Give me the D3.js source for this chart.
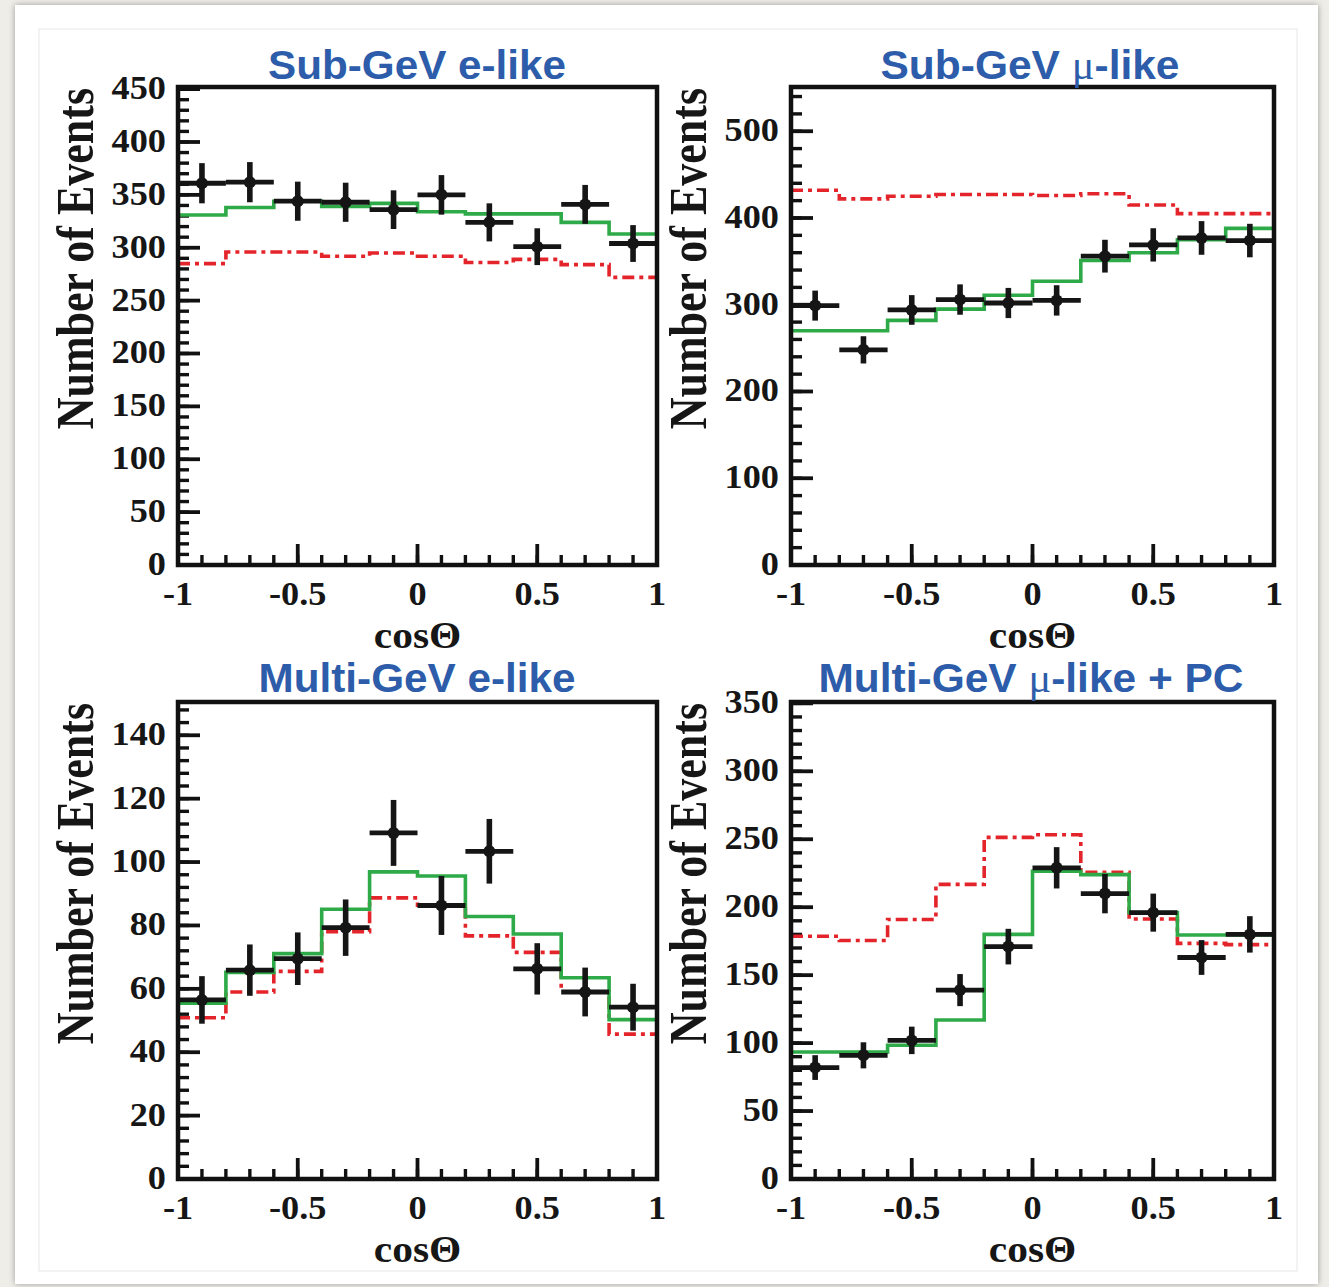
<!DOCTYPE html>
<html>
<head>
<meta charset="utf-8">
<script src="https://cdn.jsdelivr.net/npm/d3@7/dist/d3.min.js"></script>
<style>
  html, body { margin: 0; padding: 0; background: #efede8; }
  svg { display: block; }
</style>
</head>
<body>
<script>
// ---------------- DATA ----------------
const binEdges   = [-1, -0.8, -0.6, -0.4, -0.2, 0, 0.2, 0.4, 0.6, 0.8, 1];
const binCenters = [-0.9, -0.7, -0.5, -0.3, -0.1, 0.1, 0.3, 0.5, 0.7, 0.9];
const xTickValues = [-1, -0.5, 0, 0.5, 1];
const xTickLabels = ["-1", "-0.5", "0", "0.5", "1"];
const xTitle = "cosΘ";
const yTitle = "Number of Events";

// title pieces: [before mu, mu, after mu]
const panelTitles = [
  ["Sub-GeV e-like", "", ""],
  ["Sub-GeV ", "μ", "-like"],
  ["Multi-GeV e-like", "", ""],
  ["Multi-GeV ", "μ", "-like + PC"]
];

// Sub-GeV e-like
const subEData   = [361, 362, 344, 343, 336, 350, 324, 301, 341, 304];
const subEErr    = [19, 19, 18.5, 18.5, 18.3, 18.7, 18, 17.4, 18.4, 17.4];
const subEFit    = [331, 338, 344, 339, 342, 334, 332, 332, 324, 313];
const subENoOsc  = [285, 296, 296, 292, 295, 292, 286, 289, 284, 272];
const subEYTicks = [0, 50, 100, 150, 200, 250, 300, 350, 400, 450];

// Sub-GeV mu-like
const subMuData   = [299, 248, 294, 306, 302, 305, 356, 369, 377, 374];
const subMuErr    = [17.3, 15.7, 17.1, 17.5, 17.4, 17.5, 18.9, 19.2, 19.4, 19.3];
const subMuFit    = [270, 270, 282, 295, 311, 327, 351, 360, 375, 388];
const subMuNoOsc  = [432, 422, 425, 427, 427, 426, 428, 415, 405, 405];
const subMuYTicks = [0, 100, 200, 300, 400, 500];

// Multi-GeV e-like
const mulEData   = [56.5, 65.9, 69.5, 79.3, 109.2, 86.3, 103.4, 66.3, 59, 54.2];
const mulEErr    = [7.5, 8.1, 8.3, 8.9, 10.4, 9.3, 10.2, 8.1, 7.7, 7.4];
const mulEFit    = [55.5, 65.2, 71.1, 85.1, 96.9, 95.6, 82.8, 77.3, 63.5, 50.3];
const mulENoOsc  = [50.9, 59, 65.5, 78, 88.7, 86.4, 76.7, 71.5, 59.1, 45.7];
const mulEYTicks = [0, 20, 40, 60, 80, 100, 120, 140];

// Multi-GeV mu-like + PC
const mulMuData   = [82, 91, 102, 139, 171, 229, 210, 196, 163, 180];
const mulMuErr    = [9.1, 9.6, 10.1, 11.8, 13.1, 15.2, 14.5, 14, 12.8, 13.4];
const mulMuFit    = [93.5, 93.5, 98.4, 117, 180, 226.5, 224, 196, 179.5, 179.5];
const mulMuNoOsc  = [178.6, 175.5, 191, 216.8, 251.4, 253.3, 225.6, 191.3, 173.4, 172.5];
const mulMuYTicks = [0, 50, 100, 150, 200, 250, 300, 350];

const yMaxes     = [452, 551, 150.5, 351];
const yMinorStep = [10, 20, 4, 10];

// ---------------- LAYOUT ----------------
const W = 1329, H = 1287;
const panels = [
  { x0: 178, x1: 657, y0: 87,  y1: 565,  titleX: 417,  titleY: 79,  titleW: 298,
    data: subEData, err: subEErr, fit: subEFit, noosc: subENoOsc, yTicks: subEYTicks },
  { x0: 791, x1: 1274, y0: 87, y1: 565,  titleX: 1030, titleY: 79,  titleW: 299,
    data: subMuData, err: subMuErr, fit: subMuFit, noosc: subMuNoOsc, yTicks: subMuYTicks },
  { x0: 178, x1: 657, y0: 702, y1: 1179, titleX: 417,  titleY: 692, titleW: 317,
    data: mulEData, err: mulEErr, fit: mulEFit, noosc: mulENoOsc, yTicks: mulEYTicks },
  { x0: 791, x1: 1274, y0: 702, y1: 1179, titleX: 1031, titleY: 692, titleW: 425,
    data: mulMuData, err: mulMuErr, fit: mulMuFit, noosc: mulMuNoOsc, yTicks: mulMuYTicks }
];

const svg = d3.select("body").append("svg")
  .attr("width", W).attr("height", H)
  .attr("viewBox", `0 0 ${W} ${H}`);

const defs = svg.append("defs");
const f = defs.append("filter").attr("id", "shadow")
  .attr("x", "-5%").attr("y", "-5%").attr("width", "110%").attr("height", "110%");
f.append("feDropShadow").attr("dx", 0).attr("dy", 0).attr("stdDeviation", 3)
  .attr("flood-color", "#000").attr("flood-opacity", 0.35);

svg.append("rect").attr("width", W).attr("height", H).attr("fill", "#efede8");
svg.append("rect").attr("x", 15).attr("y", 5).attr("width", 1303).attr("height", 1279)
  .attr("fill", "#ffffff").attr("filter", "url(#shadow)");
svg.append("rect").attr("x", 39).attr("y", 29).attr("width", 1258).attr("height", 1242)
  .attr("fill", "none").attr("stroke", "#ececec").attr("stroke-width", 1.2);

const serif = "'Liberation Serif', 'Times New Roman', serif";
const sans  = "'Liberation Sans', Arial, Helvetica, sans-serif";
const labStretch = 1.1;
const titleStretch = 1.2;

panels.forEach((p, i) => {
  const g = svg.append("g");
  const x = d3.scaleLinear().domain([-1, 1]).range([p.x0, p.x1]);
  const y = d3.scaleLinear().domain([0, yMaxes[i]]).range([p.y1, p.y0]);

  // minor / major ticks on y (inside frame, pointing right)
  const yMinor = d3.range(0, yMaxes[i], yMinorStep[i]);
  g.selectAll(".ymin").data(yMinor).enter().append("line")
    .attr("x1", p.x0).attr("x2", p.x0 + 11)
    .attr("y1", d => y(d)).attr("y2", d => y(d))
    .attr("stroke", "#111").attr("stroke-width", 3.4);
  g.selectAll(".ymaj").data(p.yTicks).enter().append("line")
    .attr("x1", p.x0).attr("x2", p.x0 + 22)
    .attr("y1", d => y(d)).attr("y2", d => y(d))
    .attr("stroke", "#111").attr("stroke-width", 3.8);

  // x ticks (pointing up)
  const xMinor = d3.range(-10, 11).map(k => k / 10);
  g.selectAll(".xmin").data(xMinor).enter().append("line")
    .attr("x1", d => x(d)).attr("x2", d => x(d))
    .attr("y1", p.y1).attr("y2", p.y1 - 10)
    .attr("stroke", "#111").attr("stroke-width", 3.4);
  g.selectAll(".xmaj").data(xTickValues).enter().append("line")
    .attr("x1", d => x(d)).attr("x2", d => x(d))
    .attr("y1", p.y1).attr("y2", p.y1 - 21)
    .attr("stroke", "#111").attr("stroke-width", 3.8);

  // step histograms
  const stepLine = d3.line().x(d => x(d[0])).y(d => y(d[1])).curve(d3.curveStepAfter);
  const pts = arr => binEdges.map((e, k) => [e, arr[Math.min(k, arr.length - 1)]]);

  g.append("path").attr("d", stepLine(pts(p.noosc)))
    .attr("fill", "none").attr("stroke", "#e3242b").attr("stroke-width", 3.6)
    .attr("stroke-dasharray", "12 5 4 5");
  g.append("path").attr("d", stepLine(pts(p.fit)))
    .attr("fill", "none").attr("stroke", "#2eaa48").attr("stroke-width", 3.6);

  // data points
  const dg = g.append("g");
  p.data.forEach((v, k) => {
    dg.append("line")
      .attr("x1", x(binEdges[k])).attr("x2", x(binEdges[k + 1]))
      .attr("y1", y(v)).attr("y2", y(v))
      .attr("stroke", "#151515").attr("stroke-width", 4.8);
    dg.append("line")
      .attr("x1", x(binCenters[k])).attr("x2", x(binCenters[k]))
      .attr("y1", y(v - p.err[k])).attr("y2", y(v + p.err[k]))
      .attr("stroke", "#151515").attr("stroke-width", 5.6);
    dg.append("circle").attr("cx", x(binCenters[k])).attr("cy", y(v)).attr("r", 6)
      .attr("fill", "#151515");
  });

  // frame
  g.append("rect").attr("x", p.x0).attr("y", p.y0)
    .attr("width", p.x1 - p.x0).attr("height", p.y1 - p.y0)
    .attr("fill", "none").attr("stroke", "#111").attr("stroke-width", 4.5);

  // y tick labels
  g.selectAll(".ylab").data(p.yTicks).enter().append("text")
    .attr("transform", d => `translate(${p.x0 - 12},${y(d)}) scale(${labStretch},1)`)
    .attr("dy", "0.3em")
    .attr("text-anchor", "end")
    .attr("font-family", serif).attr("font-weight", "bold").attr("font-size", 33)
    .attr("fill", "#161616")
    .text(d => d);

  // x tick labels
  g.selectAll(".xlab").data(xTickValues).enter().append("text")
    .attr("transform", d => `translate(${x(d)},${p.y1 + 40}) scale(${labStretch},1)`)
    .attr("text-anchor", "middle")
    .attr("font-family", serif).attr("font-weight", "bold").attr("font-size", 33)
    .attr("fill", "#161616")
    .text((d, k) => xTickLabels[k]);

  // x title
  g.append("text")
    .attr("transform", `translate(${(p.x0 + p.x1) / 2},${p.y1 + 83}) scale(1.12,1)`)
    .attr("text-anchor", "middle")
    .attr("font-family", serif).attr("font-weight", "bold").attr("font-size", 37)
    .attr("fill", "#161616")
    .text(xTitle);

  // y title
  g.append("text")
    .attr("transform", `translate(${p.x0 - 85},${p.y0 + 1}) scale(${titleStretch},1) rotate(-90)`)
    .attr("text-anchor", "end")
    .attr("font-family", serif).attr("font-weight", "bold").attr("font-size", 44)
    .attr("fill", "#161616")
    .text(yTitle);

  // panel title
  const parts = panelTitles[i];
  const t = g.append("text")
    .attr("x", p.titleX - p.titleW / 2).attr("y", p.titleY)
    .attr("font-family", sans).attr("font-weight", "bold").attr("font-size", 40)
    .attr("fill", "#2d5daa")
    .attr("textLength", p.titleW).attr("lengthAdjust", "spacingAndGlyphs");
  t.append("tspan").text(parts[0]);
  if (parts[1]) {
    t.append("tspan").attr("font-family", serif).attr("font-weight", "normal").text(parts[1]);
    t.append("tspan").text(parts[2]);
  }
});
</script>
</body>
</html>
